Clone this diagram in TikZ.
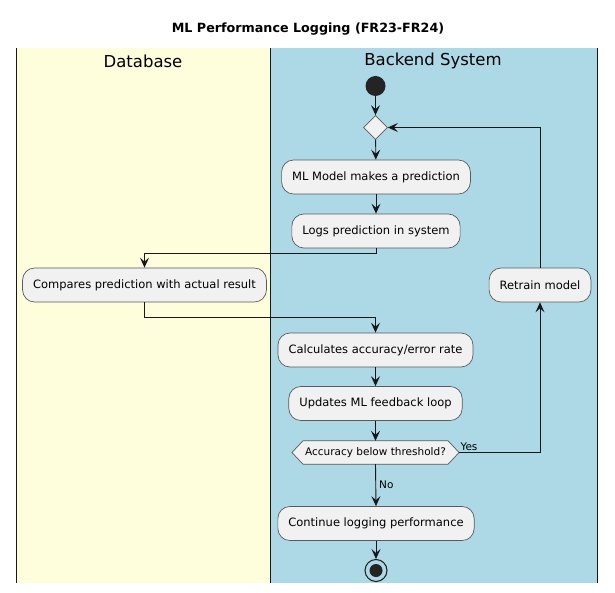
\documentclass[tikz,border=0pt]{standalone}
\usepackage{fontspec}
\setmainfont{DejaVu Sans}
\usetikzlibrary{shapes.geometric,arrows.meta,calc}
\definecolor{laneyellow}{HTML}{FEFEDD}
\definecolor{laneblue}{HTML}{ADD8E6}
\definecolor{boxfill}{HTML}{F1F1F1}
\definecolor{boxline}{HTML}{5A5A5A}
\definecolor{ink}{HTML}{181818}
\tikzset{
  actbox/.style={draw=boxline, fill=boxfill, line width=0.7pt, rounded corners=12pt,
    inner xsep=10.5pt, inner ysep=0pt, minimum height=34pt, font=\fontsize{11.5}{13}\selectfont},
  flow/.style={draw=ink, line width=0.9pt, -{Stealth[length=10pt,width=9pt,inset=4pt]}},
  plain/.style={draw=ink, line width=0.9pt},
  lanehead/.style={font=\fontsize{16.5}{19}\selectfont},
  lbl/.style={font=\fontsize{10.5}{12}\selectfont, inner sep=0pt},
}
\begin{document}
\begin{tikzpicture}[x=1pt,y=-1pt]
\useasboundingbox (0,0) rectangle (615,593);
% lanes
\fill[laneyellow] (16,48) rectangle (270,583);
\fill[laneblue] (270,48) rectangle (597,583);
\draw[ink, line width=1pt] (16,48) -- (16,583);
\draw[ink, line width=1pt] (270,48) -- (270,583);
\draw[ink, line width=1pt] (597,48) -- (597,583);
\node[font=\bfseries\fontsize{12.7}{14}\selectfont] (title) at (308,29) {ML Performance Logging (FR23-FR24)};
\node[lanehead] (hdb) at (143,61) {Database};
\node[lanehead] (hbe) at (433,61) {Backend System};
% nodes
\node[circle, fill=ink!95!white, minimum size=20pt, inner sep=0pt] (start) at (375.5,86) {};
\node[diamond, draw=boxline, fill=boxfill, line width=0.7pt, minimum width=24pt, minimum height=24pt, inner sep=0pt] (merge) at (375.5,127.5) {};
\node[actbox] (ml) at (376,177) {ML Model makes a prediction};
\node[actbox] (logs) at (376,231) {Logs prediction in system};
\node[actbox] (cmp) at (144.5,285) {Compares prediction with actual result};
\node[actbox] (retrain) at (540,285) {Retrain model};
\node[actbox] (calc) at (375.5,350) {Calculates accuracy/error rate};
\node[actbox] (upd) at (375.5,403.5) {Updates ML feedback loop};
\node[lbl, minimum height=23pt, inner xsep=2pt] (dec) at (375.5,452.5) {Accuracy below threshold?};
\coordinate (decL) at ($(dec.west)+(-11,0)$);
\coordinate (decR) at ($(dec.east)+(11,0)$);
\draw[draw=boxline, fill=boxfill, line width=0.7pt] (decL) -- (dec.north west) -- (dec.north east) -- (decR) -- (dec.south east) -- (dec.south west) -- cycle;
\node[lbl] at (dec) {Accuracy below threshold?};
\node[actbox] (cont) at (376,523.5) {Continue logging performance};
\node[circle, draw=ink, line width=1pt, minimum size=22pt, inner sep=0pt] (stop) at (376,570.5) {};
\node[circle, fill=ink!95!white, minimum size=13pt, inner sep=0pt] at (stop) {};
% connectors
\draw[flow] (start) -- (merge);
\draw[flow] (merge) -- (ml);
\draw[flow] (ml) -- (logs);
\draw[flow] (logs.south) -- ++(0,5) -| (cmp.north);
\draw[flow] (cmp.south) -- ++(0,15) -| (calc.north);
\draw[flow] (calc) -- (upd);
\draw[flow] (upd) -- (dec.north);
\draw[flow] (decR) -| node[pos=0.0, above right, lbl, xshift=1pt, yshift=1pt] (yes) {Yes} (retrain.south);
\draw[flow] (retrain.north) |- (merge.east);
\draw[flow] (dec.south) -- node[right, lbl, xshift=3pt] (no) {No} (cont.north);
\draw[flow] (cont) -- (stop);
\end{tikzpicture}
\end{document}
